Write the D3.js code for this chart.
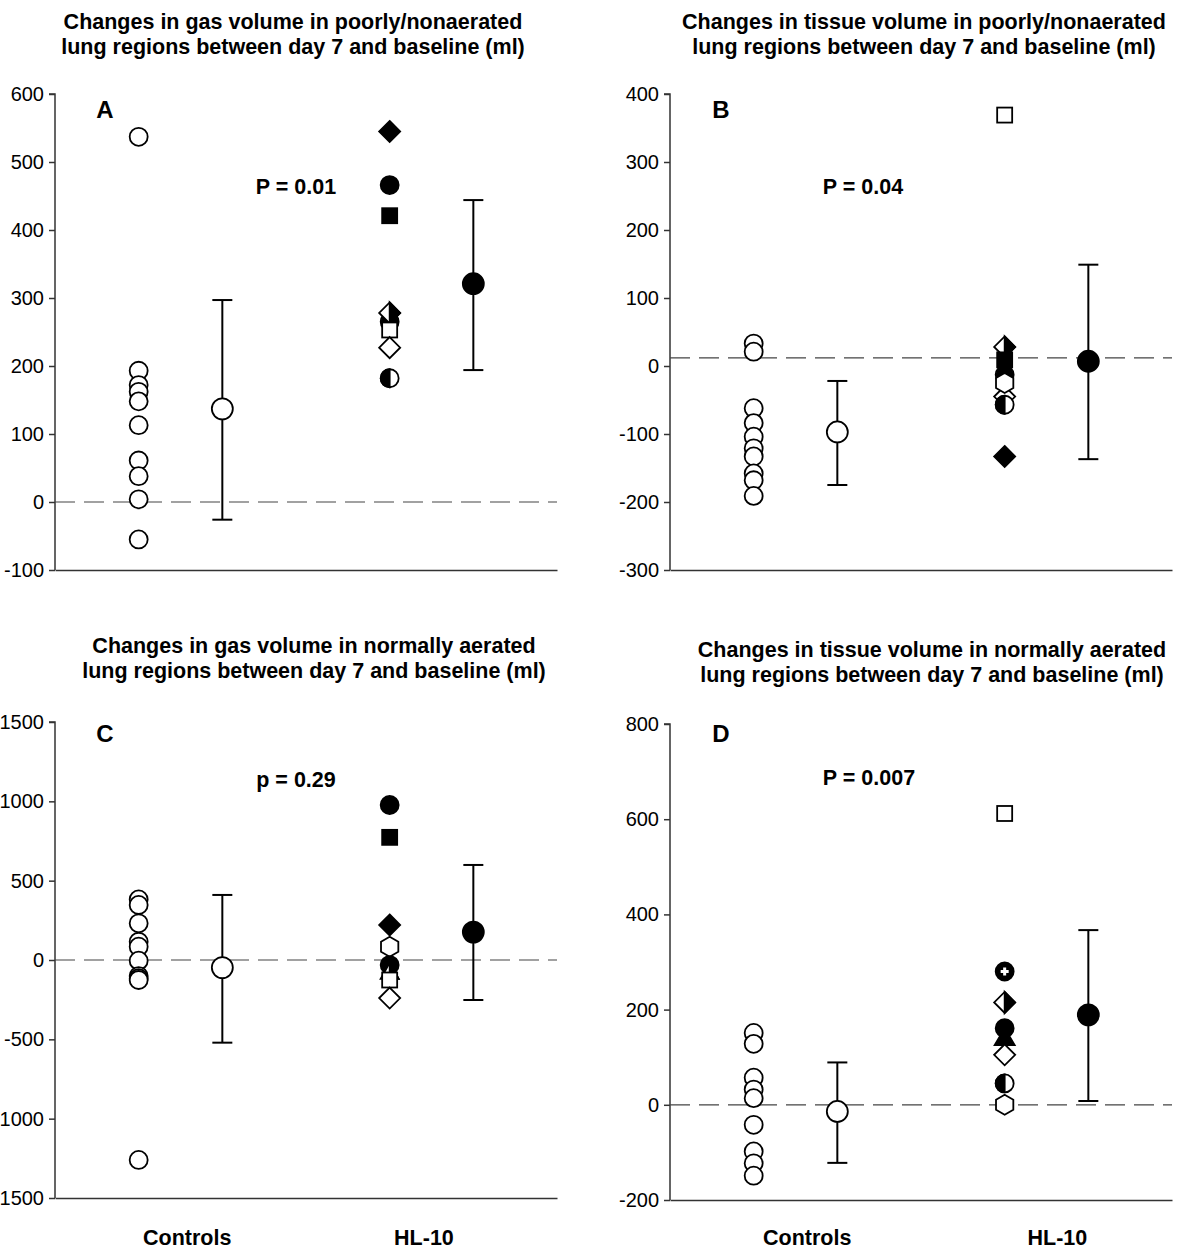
<!DOCTYPE html>
<html><head><meta charset="utf-8">
<script src="https://cdn.jsdelivr.net/npm/d3@7"></script>
<style>body{margin:0;background:#fff} text{font-family:"Liberation Sans",Arial,sans-serif;fill:#000}</style>
</head><body><svg id="c" width="1200" height="1252"></svg>
<script>
// ---------- data ----------
const groups = ["Controls", "HL-10"];

const titlesA = ["Changes in gas volume in poorly/nonaerated", "lung regions between day 7 and baseline (ml)"];
const titlesB = ["Changes in tissue volume in poorly/nonaerated", "lung regions between day 7 and baseline (ml)"];
const titlesC = ["Changes in gas volume in normally aerated", "lung regions between day 7 and baseline (ml)"];
const titlesD = ["Changes in tissue volume in normally aerated", "lung regions between day 7 and baseline (ml)"];

const pTexts = ["P = 0.01", "P = 0.04", "p = 0.29", "P = 0.007"];

const ticksA = [-100, 0, 100, 200, 300, 400, 500, 600];
const ticksB = [-300, -200, -100, 0, 100, 200, 300, 400];
const ticksC = [-1500, -1000, -500, 0, 500, 1000, 1500];
const ticksD = [-200, 0, 200, 400, 600, 800];

const controlsA = [537, 193, 172, 162, 148, 113, 61, 38, 4, -55];
const hl10A = [545, 466, 421, 265, 278, 253, 227, 182];
const hl10SymA = ["diamondFilled", "circleFilled", "squareFilled", "circleFilled", "halfDiamond", "squareOpen", "diamondOpen", "halfCircle"];
const meanA = [137, 321], hiA = [297, 444], loA = [-26, 194];
const refA = 0;

const controlsB = [33, 21, -62, -84, -104, -121, -133, -158, -168, -191];
const hl10B = [369, 28, 9, -13, -45, -25, -57, -133];
const hl10SymB = ["squareOpen", "halfDiamond", "squareFilled", "circleFilled", "diamondOpen", "hexagonOpen", "halfCircle", "diamondFilled"];
const meanB = [-97, 7], hiB = [-22, 149], loB = [-175, -137];
const refB = 12;

const controlsC = [382, 347, 231, 115, 84, -4, -101, -115, -126, -1260];
const hl10C = [977, 773, 221, 84, -32, -74, -126, -240];
const hl10SymC = ["circleFilled", "squareFilled", "diamondFilled", "hexagonOpen", "circleFilled", "halfTriangle", "squareOpen", "diamondOpen"];
const meanC = [-48, 176], hiC = [410, 599], loC = [-521, -252];
const refC = 0;

const controlsD = [151, 128, 57, 32, 14, -42, -98, -123, -149];
const hl10D = [612, 280, 215, 161, 140, 105, 45, 0];
const hl10SymD = ["squareOpen", "circleCross", "halfDiamond", "circleFilled", "triangleFilled", "diamondOpen", "halfCircle", "hexagonOpen"];
const meanD = [-14, 189], hiD = [89, 367], loD = [-122, 8];
const refD = 0;

// ---------- layout ----------
const panels = [
  {letter: "A", titles: titlesA, p: pTexts[0], ticks: ticksA, ctrl: controlsA, hl: hl10A, sym: hl10SymA, mean: meanA, hi: hiA, lo: loA, ref: refA,
   left: 55, right: 557, top: 94, bottom: 570, titleX: 293, titleY: 29, pX: 296, pY: 194, letX: 105, letY: 118, xlab: null},
  {letter: "B", titles: titlesB, p: pTexts[1], ticks: ticksB, ctrl: controlsB, hl: hl10B, sym: hl10SymB, mean: meanB, hi: hiB, lo: loB, ref: refB,
   left: 670, right: 1172, top: 94, bottom: 570, titleX: 924, titleY: 29, pX: 863, pY: 194, letX: 721, letY: 118, xlab: null},
  {letter: "C", titles: titlesC, p: pTexts[2], ticks: ticksC, ctrl: controlsC, hl: hl10C, sym: hl10SymC, mean: meanC, hi: hiC, lo: loC, ref: refC,
   left: 55, right: 557, top: 722, bottom: 1198, titleX: 314, titleY: 653, pX: 296, pY: 787, letX: 105, letY: 742, xlab: [1.58, 4.41]},
  {letter: "D", titles: titlesD, p: pTexts[3], ticks: ticksD, ctrl: controlsD, hl: hl10D, sym: hl10SymD, mean: meanD, hi: hiD, lo: loD, ref: refD,
   left: 670, right: 1172, top: 724, bottom: 1200, titleX: 932, titleY: 657, pX: 869, pY: 785, letX: 721, letY: 742, xlab: [1.64, 4.63]}
];

const svg = d3.select("#c");

function marker(g, type, cx, cy, big) {
  const s = g.append("g").attr("transform", `translate(${cx},${cy})`);
  const sw = 1.8;
  const r = big ? 10.5 : 9;
  if (type === "circleOpen" || type === "circleFilled") {
    s.append("circle").attr("r", r).attr("fill", type === "circleFilled" ? "#000" : "#fff").attr("stroke", "#000").attr("stroke-width", sw);
  } else if (type === "circleCross") {
    s.append("circle").attr("r", r).attr("fill", "#000").attr("stroke", "#000").attr("stroke-width", sw);
    s.append("path").attr("d", "M-4,0H4M0,-4V4").attr("stroke", "#fff").attr("stroke-width", 3);
  } else if (type === "squareOpen" || type === "squareFilled") {
    s.append("rect").attr("x", -7.5).attr("y", -7.5).attr("width", 15).attr("height", 15)
      .attr("fill", type === "squareFilled" ? "#000" : "#fff").attr("stroke", "#000").attr("stroke-width", sw);
  } else if (type === "diamondOpen" || type === "diamondFilled") {
    s.append("path").attr("d", "M0,-10.5L10.5,0L0,10.5L-10.5,0Z")
      .attr("fill", type === "diamondFilled" ? "#000" : "#fff").attr("stroke", "#000").attr("stroke-width", sw);
  } else if (type === "halfDiamond") {
    s.append("path").attr("d", "M0,-10.5L10.5,0L0,10.5L-10.5,0Z").attr("fill", "#fff").attr("stroke", "#000").attr("stroke-width", sw);
    s.append("path").attr("d", "M0,-10.5L10.5,0L0,10.5Z").attr("fill", "#000").attr("stroke", "#000").attr("stroke-width", sw);
  } else if (type === "halfCircle") {
    s.append("circle").attr("r", r).attr("fill", "#fff").attr("stroke", "#000").attr("stroke-width", sw);
    s.append("path").attr("d", `M0,${-r}A${r},${r} 0 0 0 0,${r}Z`).attr("fill", "#000").attr("stroke", "#000").attr("stroke-width", sw);
  } else if (type === "hexagonOpen") {
    const pts = d3.range(6).map(i => { const a = Math.PI / 3 * i - Math.PI / 2; return [10 * Math.cos(a), 10 * Math.sin(a)]; });
    s.append("path").attr("d", "M" + pts.join("L") + "Z").attr("fill", "#fff").attr("stroke", "#000").attr("stroke-width", sw);
  } else if (type === "halfTriangle") {
    s.append("path").attr("d", "M0,-9L9,7L-9,7Z").attr("fill", "#fff").attr("stroke", "#000").attr("stroke-width", sw);
    s.append("path").attr("d", "M0,-9L9,7L0,7Z").attr("fill", "#000").attr("stroke", "#000").attr("stroke-width", sw);
  } else if (type === "triangleFilled") {
    s.append("path").attr("d", "M0,-10L10,7L-10,7Z").attr("fill", "#000").attr("stroke", "#000").attr("stroke-width", sw);
  }
}

panels.forEach(p => {
  const y = d3.scaleLinear().domain([p.ticks[0], p.ticks[p.ticks.length - 1]]).range([p.bottom, p.top]);
  const x = d3.scaleLinear().domain([0, 6]).range([p.left, p.right]);
  const g = svg.append("g");

  // title
  p.titles.forEach((t, i) => {
    g.append("text").attr("x", p.titleX).attr("y", p.titleY + i * 25).attr("text-anchor", "middle")
      .attr("font-size", 21.5).attr("font-weight", "bold").text(t);
  });

  // y axis
  const ax = g.append("g").attr("transform", `translate(${p.left},0)`)
    .call(d3.axisLeft(y).tickValues(p.ticks).tickSize(6).tickPadding(5).tickFormat(d => String(d)));
  ax.select(".domain").attr("stroke", "#333").attr("stroke-width", 1.5).attr("d", `M-6,${p.top}H0V${p.bottom}`);
  ax.selectAll(".tick line").attr("stroke", "#333").attr("stroke-width", 1.5);
  ax.selectAll(".tick text").attr("font-size", 20).attr("font-family", '"Liberation Sans",Arial,sans-serif').attr("fill", "#000");

  // x axis
  g.append("g").attr("transform", `translate(0,${p.bottom})`)
    .call(d3.axisBottom(x).tickValues([]).tickSizeOuter(0))
    .select(".domain").attr("stroke", "#333").attr("stroke-width", 1.5);

  // reference dashed line
  g.append("line").attr("x1", p.left).attr("x2", p.right).attr("y1", y(p.ref)).attr("y2", y(p.ref))
    .attr("stroke", "#444").attr("stroke-width", 1.2).attr("stroke-dasharray", "20,9");

  // letter and p value
  g.append("text").attr("x", p.letX).attr("y", p.letY).attr("text-anchor", "middle").attr("font-size", 24).attr("font-weight", "bold").text(p.letter);
  g.append("text").attr("x", p.pX).attr("y", p.pY).attr("text-anchor", "middle").attr("font-size", 21.5).attr("font-weight", "bold").text(p.p);

  // controls
  p.ctrl.forEach(v => marker(g, "circleOpen", x(1), y(v), false));
  // HL-10
  p.hl.forEach((v, i) => marker(g, p.sym[i], x(4), y(v), false));

  // mean +/- error bars
  const mx = [2, 5];
  const mtype = ["circleOpen", "circleFilled"];
  mx.forEach((xx, i) => {
    g.append("line").attr("x1", x(xx)).attr("x2", x(xx)).attr("y1", y(p.hi[i])).attr("y2", y(p.lo[i])).attr("stroke", "#000").attr("stroke-width", 2);
    [p.hi[i], p.lo[i]].forEach(v => g.append("line").attr("x1", x(xx) - 10).attr("x2", x(xx) + 10).attr("y1", y(v)).attr("y2", y(v)).attr("stroke", "#000").attr("stroke-width", 2));
    marker(g, mtype[i], x(xx), y(p.mean[i]), true);
  });

  // x labels
  if (p.xlab) {
    groups.forEach((lab, i) => {
      g.append("text").attr("x", x(p.xlab[i])).attr("y", 1245).attr("text-anchor", "middle").attr("font-size", 21.5).attr("font-weight", "bold").text(lab);
    });
  }
});
</script></body></html>
